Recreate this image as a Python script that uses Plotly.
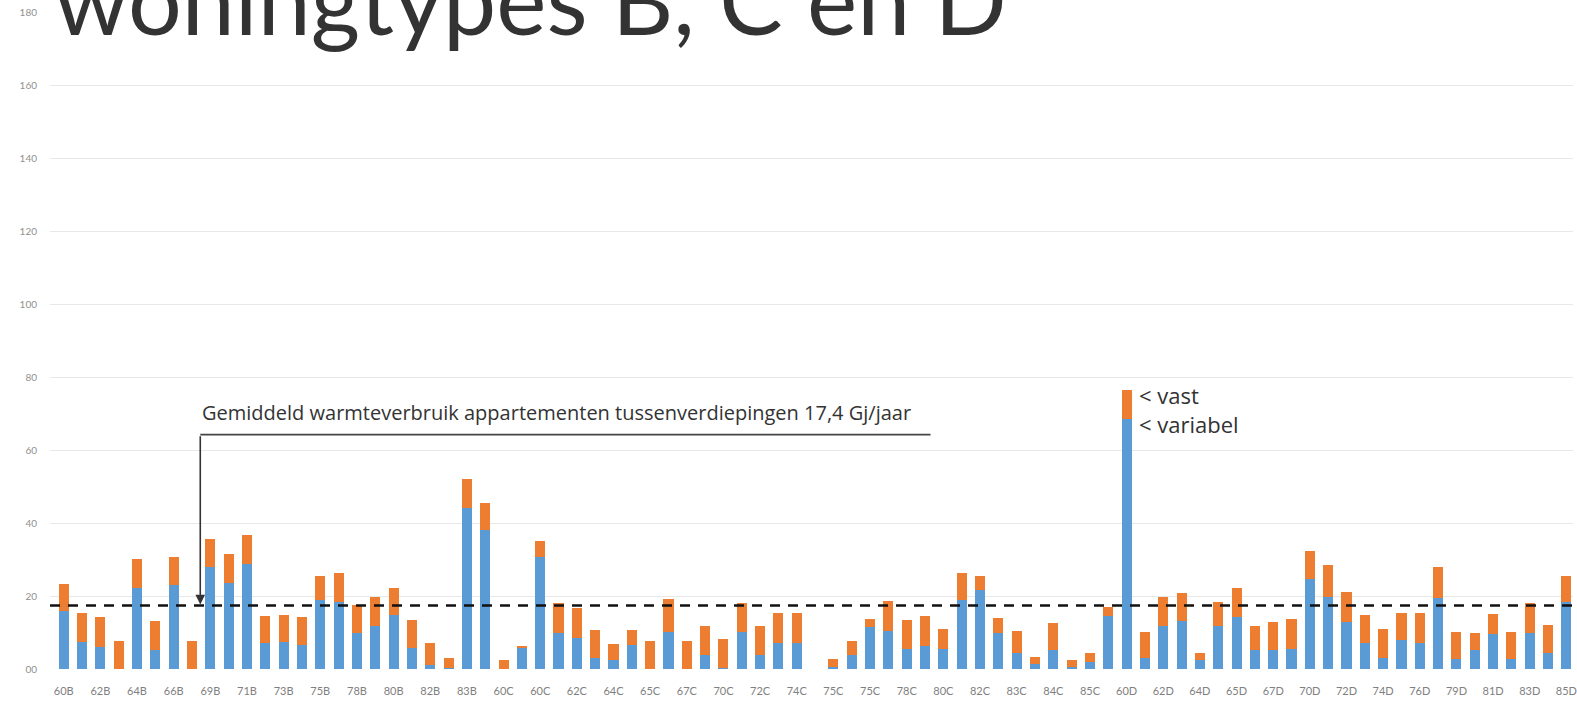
import plotly.graph_objects as go

# Woningen, in volgorde van de x-as; alleen elke tweede krijgt een label
variabel = [16.0, 7.5, 6.1, 0.0, 22.1, 5.2, 23.0, 0.0, 28.0, 23.7,
            28.8, 7.0, 7.5, 6.6, 18.9, 18.4, 10.0, 11.9, 14.8, 5.7,
            1.1, 0.4, 44.2, 38.1, 0.0, 5.8, 30.8, 10.0, 8.4, 2.9,
            2.6, 6.6, 0.0, 10.2, 0.0, 3.8, 0.4, 10.2, 3.8, 7.2,
            7.2, 0.0, 0.5, 3.8, 11.6, 10.4, 5.5, 6.3, 5.5, 18.9,
            21.6, 10.0, 4.3, 1.5, 5.2, 0.5, 2.0, 14.5, 68.4, 2.9,
            11.8, 13.2, 2.5, 11.8, 14.2, 5.2, 5.1, 5.4, 24.6, 19.8,
            13.0, 7.2, 2.9, 7.9, 7.2, 19.4, 2.7, 5.2, 9.5, 2.7,
            10.0, 4.5, 18.4]
vast = [7.3, 7.9, 8.1, 7.8, 8.0, 8.0, 7.6, 7.8, 7.7, 7.8,
        7.8, 7.5, 7.3, 7.6, 6.6, 7.8, 7.4, 7.9, 7.5, 7.7,
        5.9, 2.7, 7.9, 7.5, 2.5, 0.6, 4.4, 8.2, 8.4, 7.8,
        4.2, 4.1, 7.7, 8.9, 7.8, 8.1, 7.8, 8.0, 8.1, 8.1,
        8.1, 0.0, 2.2, 4.0, 2.1, 8.2, 7.9, 8.2, 5.4, 7.3,
        3.9, 3.9, 6.2, 1.9, 7.5, 2.0, 2.3, 2.6, 8.0, 7.3,
        7.8, 7.7, 1.8, 6.6, 7.9, 6.7, 7.8, 8.2, 7.8, 8.7,
        8.0, 7.6, 8.0, 7.4, 8.1, 8.5, 7.5, 4.8, 5.6, 7.5,
        8.2, 7.6, 7.1]
tick_labels = ["60B", "62B", "64B", "66B", "69B", "71B", "73B", "75B", "78B", "80B",
               "82B", "83B", "60C", "60C", "62C", "64C", "65C", "67C", "70C", "72C",
               "74C", "75C", "75C", "78C", "80C", "82C", "83C", "84C", "85C", "60D",
               "62D", "64D", "65D", "67D", "70D", "72D", "74D", "76D", "79D", "81D",
               "83D", "85D"]
y_ticks = [0, 20, 40, 60, 80, 100, 120, 140, 160, 180]
y_tick_text = ["00", "20", "40", "60", "80", "100", "120", "140", "160", "180"]
gemiddelde = 17.4

x = list(range(len(variabel)))
label_pos = x[::2]

BLUE = "#5b9bd5"
ORANGE = "#ed7d31"
FONT = "Lato"
NOTE_FONT = "Open Sans"

fig = go.Figure()
fig.add_trace(go.Bar(x=x, y=variabel, name="variabel", marker_color=BLUE,
                     marker_line_width=0))
fig.add_trace(go.Bar(x=x, y=vast, name="vast", marker_color=ORANGE,
                     marker_line_width=0))

# gemiddelde als gestippelde lijn over de hele breedte
fig.add_shape(type="line", xref="x domain", x0=0, x1=1, yref="y",
              y0=gemiddelde, y1=gemiddelde,
              line=dict(color="#111111", width=2.6, dash="10px,8px"))

# toelichting met pijl naar de gemiddelde-lijn
pijl_x = 7.45
pijl_y = 64.2
fig.add_shape(type="line", xref="x", yref="y", x0=pijl_x, x1=47.3,
              y0=pijl_y, y1=pijl_y, line=dict(color="#444444", width=1.6))
fig.add_annotation(x=pijl_x, y=gemiddelde + 0.3, ax=pijl_x, ay=pijl_y,
                   xref="x", yref="y", axref="x", ayref="y", text="",
                   showarrow=True, arrowhead=2, arrowsize=1.2, arrowwidth=1.6,
                   arrowcolor="#333333")
fig.add_annotation(x=pijl_x, y=70.4, xref="x", yref="y", xanchor="left",
                   yanchor="middle", showarrow=False,
                   text="Gemiddeld warmteverbruik appartementen tussenverdiepingen 17,4 Gj/jaar",
                   font=dict(family=NOTE_FONT, size=20, color="#333333"))

# uitleg van de twee delen bij de hoogste staaf
piek = max(range(len(variabel)), key=lambda i: variabel[i] + vast[i])
fig.add_annotation(x=piek + 0.55, y=variabel[piek] + 2.8,
                   xref="x", yref="y", xanchor="left", yanchor="middle",
                   showarrow=False, align="left",
                   text="&lt; vast<br>&lt; variabel",
                   font=dict(family=NOTE_FONT, size=22, color="#333333"))

# titel
fig.add_annotation(x=0, y=1.0, xref="paper", yref="paper", xanchor="left",
                   yanchor="middle", xshift=2, yshift=14, showarrow=False,
                   text="woningtypes B, C en D",
                   font=dict(family=FONT, size=95, color="#333333"))

fig.update_layout(
    width=1577, height=701,
    margin=dict(l=50, r=0, t=12, b=32),
    barmode="stack", bargap=0.45,
    showlegend=False,
    plot_bgcolor="white", paper_bgcolor="white",
    xaxis=dict(range=[-0.75, 82.36], tickmode="array", tickvals=label_pos,
               ticktext=tick_labels, showgrid=False, zeroline=False,
               ticks="", ticklabelstandoff=14, ticklabeloverflow="allow",
               tickfont=dict(family=FONT, size=11, color="#808080"),
               tickangle=0),
    yaxis=dict(range=[0, 180], tickmode="array", tickvals=y_ticks,
               ticktext=y_tick_text, showgrid=True, gridcolor="#e8e8e8",
               gridwidth=1, zeroline=False, ticks="", ticklabelstandoff=12,
               tickfont=dict(family=FONT, size=10, color="#909090")),
)

fig.write_html("out.html")
